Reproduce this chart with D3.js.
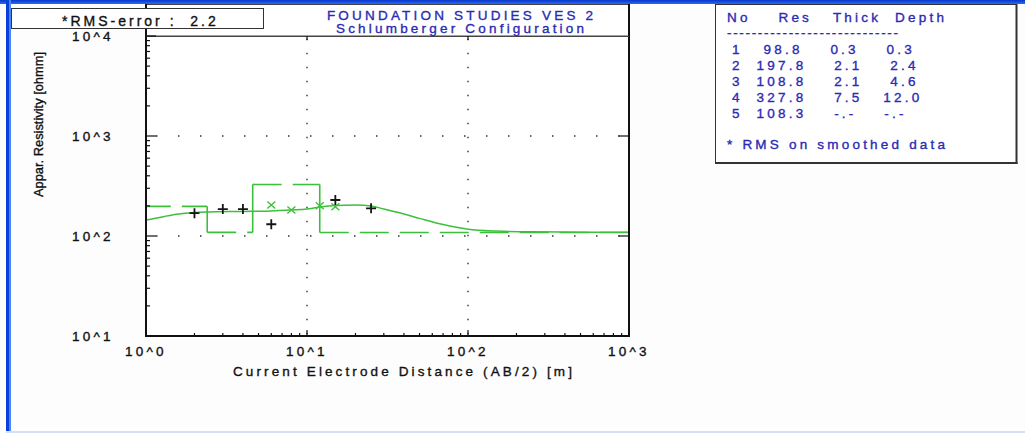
<!DOCTYPE html>
<html><head><meta charset="utf-8">
<script src="https://cdn.jsdelivr.net/npm/d3@7"></script>
<style>
html,body{margin:0;padding:0;background:#fdfdfd;}
svg{display:block;}
text{font-family:"Liberation Sans",Arial,sans-serif;stroke-width:0.35px;}
</style></head><body>
<svg id="chart" width="1025" height="433"></svg>
<script>
// ---------------- data ----------------
const titleLines = ["FOUNDATION STUDIES VES 2", "Schlumberger Configuration"];
const rmsLabel = "*RMS-error :";
const rmsError = "2.2";
const xTitle = "Current Electrode Distance (AB/2) [m]";
const yTitle = "Appar. Resistivity [ohmm]";
const xTickValues = [1, 10, 100, 1000];
const xTickLabels = ["10^0", "10^1", "10^2", "10^3"];
const yTickValues = [10, 100, 1000, 10000];
const yTickLabels = ["10^1", "10^2", "10^3", "10^4"];

const layerNo = [1, 2, 3, 4, 5];
const layerRes = [98.8, 197.8, 108.8, 327.8, 108.3];
const layerThick = ["0.3", "2.1", "2.1", "7.5", "-.-"];
const layerDepth = ["0.3", "2.4", "4.6", "12.0", "-.-"];
const layerTop = [0, 0.3, 2.4, 4.6, 12.0];
const layerBottom = [0.3, 2.4, 4.6, 12.0, 1000];
const tableHeader = "No    Res   Thick  Depth";
const tableNote = "* RMS on smoothed data";

const fieldAB = [2, 3, 4, 6, 15, 25];
const fieldRho = [169, 186, 186, 131, 229, 189];
const smoothAB = [6, 8, 12, 15];
const smoothRho = [204, 182, 201, 196];
const curveAB = [1, 1.3, 1.6, 2.4, 4, 6, 8, 10, 12, 15, 20, 25, 30, 40, 50, 70, 100, 150, 250, 1000];
const curveRho = [144.5, 157, 166, 174, 176, 178, 182, 186, 195, 202, 204, 200, 186, 166, 150, 130, 117, 112, 110, 109];

// ---------------- setup ----------------
const GREEN = "#3cc03c";
const BLUE_TXT = "#2a2ab4";
const NB = s => s.replace(/ /g, "\u00A0");
const svg = d3.select("#chart");

const x = d3.scaleLog().domain([1, 1000]).range([146, 629]);
const y = d3.scaleLog().domain([10, 10000]).range([336, 36]);

// window border
const grad = svg.append("defs").append("linearGradient").attr("id", "bl").attr("x1", 0).attr("y1", 0).attr("x2", 0).attr("y2", 1);
grad.append("stop").attr("offset", "0").attr("stop-color", "#0836c8");
grad.append("stop").attr("offset", "1").attr("stop-color", "#2a6af6");
svg.append("rect").attr("x", 0).attr("y", 0).attr("width", 1025).attr("height", 4).attr("fill", "url(#bl)");
svg.append("rect").attr("x", 6).attr("y", 0).attr("width", 3).attr("height", 433).attr("fill", "#0a40d8");
svg.append("rect").attr("x", 9).attr("y", 0).attr("width", 2).attr("height", 433).attr("fill", "#4a86f4");
svg.append("rect").attr("x", 6).attr("y", 431).attr("width", 1019).attr("height", 2).attr("fill", "#d4e0f6");

// plot area background
svg.append("rect").attr("x", x(1)).attr("y", y(10000)).attr("width", x(1000) - x(1)).attr("height", y(10) - y(10000)).attr("fill", "#ffffff");
// title box
svg.append("rect").attr("x", 146.5).attr("y", 4.5).attr("width", 482).attr("height", 31.5).attr("fill", "#ffffff").attr("stroke", "#444").attr("stroke-width", 1);

svg.append("clipPath").attr("id", "clip").append("rect")
  .attr("x", x(1)).attr("y", y(10000)).attr("width", x(1000) - x(1)).attr("height", y(10) - y(10000));

// gridlines (dotted)
const gridY = yTickValues.slice(1, 3);
const gridX = xTickValues.slice(1, 3);
svg.append("g").selectAll("line").data(gridY).join("line")
  .attr("x1", x(1)).attr("x2", x(1000)).attr("y1", d => y(d)).attr("y2", d => y(d))
  .attr("stroke", "#333").attr("stroke-width", 1.4).attr("stroke-dasharray", "1.5 20.5").attr("stroke-dashoffset", 12);
svg.append("g").selectAll("line").data(gridX).join("line")
  .attr("x1", d => x(d)).attr("x2", d => x(d)).attr("y1", y(10000)).attr("y2", y(10))
  .attr("stroke", "#333").attr("stroke-width", 1.4).attr("stroke-dasharray", "1.5 12.5").attr("stroke-dashoffset", 11.3);

const plot = svg.append("g").attr("clip-path", "url(#clip)");

// model step (dashed horizontals, solid verticals)
const horiz = layerRes.map((r, i) => ({ r, a: layerTop[i], b: layerBottom[i] })).filter(d => d.b > 1);
plot.append("g").selectAll("line").data(horiz).join("line")
  .attr("x1", d => x(Math.max(d.a, 0.3))).attr("x2", d => x(d.b))
  .attr("y1", d => y(d.r)).attr("y2", d => y(d.r))
  .attr("stroke", GREEN).attr("stroke-width", 1.6).attr("stroke-dasharray", "29 11");
const verts = layerRes.slice(1).map((r, i) => ({ d: layerTop[i + 1], r0: layerRes[i], r1: r })).filter(v => v.d >= 1);
plot.append("g").selectAll("line").data(verts).join("line")
  .attr("x1", v => x(v.d)).attr("x2", v => x(v.d))
  .attr("y1", v => y(v.r0)).attr("y2", v => y(v.r1))
  .attr("stroke", GREEN).attr("stroke-width", 1.6);

// model curve
const curve = curveAB.map((d, i) => [d, curveRho[i]]);
plot.append("path").datum(curve)
  .attr("d", d3.line().x(d => x(d[0])).y(d => y(d[1])).curve(d3.curveMonotoneX))
  .attr("fill", "none").attr("stroke", GREEN).attr("stroke-width", 1.5);

// smoothed data (x)
const sm = smoothAB.map((d, i) => [x(d), y(smoothRho[i])]);
plot.append("g").selectAll("path").data(sm).join("path")
  .attr("d", p => `M${p[0]-4},${p[1]-3.5}L${p[0]+4},${p[1]+3.5}M${p[0]-4},${p[1]+3.5}L${p[0]+4},${p[1]-3.5}`)
  .attr("stroke", GREEN).attr("stroke-width", 1.4).attr("fill", "none");

// field data (+)
const fd = fieldAB.map((d, i) => [x(d), y(fieldRho[i])]);
plot.append("g").selectAll("path").data(fd).join("path")
  .attr("d", p => `M${p[0]-5},${p[1]}L${p[0]+5},${p[1]}M${p[0]},${p[1]-5}L${p[0]},${p[1]+5}`)
  .attr("stroke", "#151515").attr("stroke-width", 1.8).attr("fill", "none");

// frame
const frame = svg.append("g").attr("stroke", "#111");
frame.append("line").attr("x1", x(1)).attr("x2", x(1)).attr("y1", 4).attr("y2", y(10) + 1).attr("stroke-width", 2);
frame.append("line").attr("x1", x(1000)).attr("x2", x(1000)).attr("y1", 4).attr("y2", y(10) + 1).attr("stroke-width", 2);
frame.append("line").attr("x1", x(1) - 1).attr("x2", x(1000) + 1).attr("y1", y(10)).attr("y2", y(10)).attr("stroke-width", 2);
frame.append("line").attr("x1", x(1)).attr("x2", x(1000)).attr("y1", y(10000) + 0.5).attr("y2", y(10000) + 0.5).attr("stroke-width", 1).attr("stroke", "#444");

// ticks
const isMajor = v => Math.abs(Math.log10(v) - Math.round(Math.log10(v))) < 1e-9;
const yt = y.ticks();
frame.append("g").selectAll("line").data(yt).join("line")
  .attr("x1", x(1)).attr("x2", d => x(1) + (isMajor(d) ? 10 : 4))
  .attr("y1", d => y(d)).attr("y2", d => y(d)).attr("stroke-width", 1.2);
frame.append("g").selectAll("line").data(yTickValues.slice(1, 3)).join("line")
  .attr("x1", x(1000)).attr("x2", x(1000) - 10)
  .attr("y1", d => y(d)).attr("y2", d => y(d)).attr("stroke-width", 1.2);
const xt = x.ticks();
frame.append("g").selectAll("line").data(xt).join("line")
  .attr("x1", d => x(d)).attr("x2", d => x(d))
  .attr("y1", y(10)).attr("y2", d => y(10) - (isMajor(d) ? 6 : 3)).attr("stroke-width", 1.2);
frame.append("g").selectAll("line").data(xTickValues.slice(1, 3)).join("line")
  .attr("x1", d => x(d)).attr("x2", d => x(d))
  .attr("y1", y(10000)).attr("y2", y(10000) + 4).attr("stroke-width", 1.2);

// tick labels
const LS = "3.2px";
svg.append("g").selectAll("text").data(yTickValues).join("text")
  .attr("x", 72).attr("y", d => y(d) + 5)
  .attr("font-size", 13.5).attr("letter-spacing", LS).attr("fill", "#111").attr("stroke", "#111")
  .text((d, i) => yTickLabels[i]);
svg.append("g").selectAll("text").data(xTickValues).join("text")
  .attr("x", d => x(d) - 21).attr("y", 356)
  .attr("font-size", 13.5).attr("letter-spacing", LS).attr("fill", "#111").attr("stroke", "#111")
  .text((d, i) => xTickLabels[i]);

// axis titles
svg.append("text").attr("x", 233).attr("y", 376).attr("font-size", 13.5)
  .attr("textLength", 339).attr("lengthAdjust", "spacing").attr("fill", "#111").attr("stroke", "#111").text(xTitle);
svg.append("text").attr("transform", "translate(43,197) rotate(-90)").attr("font-size", 12.5)
  .attr("textLength", 145).attr("lengthAdjust", "spacingAndGlyphs").attr("fill", "#111").attr("stroke", "#111").text(yTitle);

// title
svg.append("g").selectAll("text").data(titleLines).join("text")
  .attr("x", 461.6).attr("y", (d, i) => 19.5 + i * 13.5).attr("text-anchor", "middle")
  .attr("font-size", 13.5).attr("letter-spacing", LS).attr("fill", BLUE_TXT).attr("stroke", BLUE_TXT).text(d => d);

// RMS box
svg.append("rect").attr("x", 11.5).attr("y", 8.5).attr("width", 252).attr("height", 20)
  .attr("fill", "#ffffff").attr("stroke", "#333").attr("stroke-width", 1);
svg.append("text").attr("x", 62).attr("y", 25.5).attr("font-size", 14).attr("letter-spacing", "3px")
  .attr("fill", "#111").attr("stroke", "#111").text(NB(rmsLabel + "  " + rmsError));

// table box
svg.append("rect").attr("x", 715.5).attr("y", 4.5).attr("width", 301).attr("height", 158.5)
  .attr("fill", "#ffffff").attr("stroke", "#333").attr("stroke-width", 1);
svg.append("line").attr("x1", 1016.5).attr("x2", 1016.5).attr("y1", 4).attr("y2", 164).attr("stroke", "#333").attr("stroke-width", 2);
svg.append("line").attr("x1", 715).attr("x2", 1017.5).attr("y1", 163).attr("y2", 163).attr("stroke", "#333").attr("stroke-width", 2);

const fmt = (s, w) => String(s).padStart(w, " ");
const rows = layerNo.map((n, i) => fmt(n, 2) + fmt(layerRes[i].toFixed(1), 7) + fmt(layerThick[i], 7) + fmt(layerDepth[i], 7));
const tbl = svg.append("g").attr("font-size", 13.5).attr("letter-spacing", LS).attr("fill", BLUE_TXT).attr("stroke", BLUE_TXT);
tbl.append("text").attr("x", 727).attr("y", 21.5).text(NB(tableHeader));
tbl.append("text").attr("x", 727).attr("y", 37).attr("letter-spacing", "0px").attr("textLength", 171).attr("lengthAdjust", "spacing").text("----------------------------");
tbl.selectAll("text.row").data(rows).join("text").attr("class", "row")
  .attr("x", 725).attr("y", (d, i) => 54 + i * 15.9).text(d => NB(d));
tbl.append("text").attr("x", 727).attr("y", 149).text(NB(tableNote));
</script>
</body></html>
